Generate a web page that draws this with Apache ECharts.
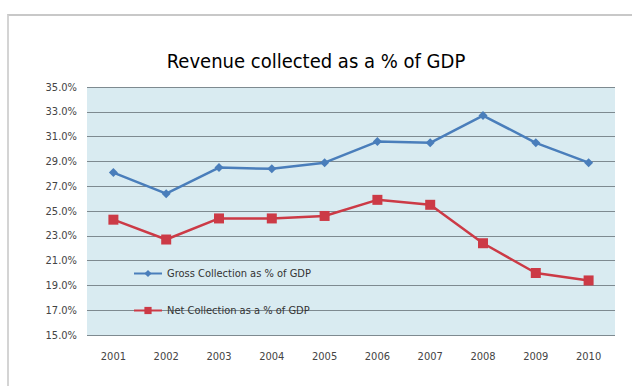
<!DOCTYPE html>
<html>
<head>
<meta charset="utf-8">
<script src="https://cdn.jsdelivr.net/npm/echarts@6/dist/echarts.min.js"></script>
<style>
  html, body { margin: 0; padding: 0; background: #ffffff; }
  #frame { position: absolute; left: 7px; top: 14px; width: 630px; height: 380px; border-top: 2px solid #c8c8c8; border-left: 2px solid #d4d4d4; box-sizing: border-box; }
  #chart { position: absolute; left: 0; top: 0; width: 632px; height: 386px; }
</style>
</head>
<body>
<div id="frame"></div>
<div id="chart"></div>
<script>
// Revenue collected as a share of GDP, 2001-2010
const years = ['2001', '2002', '2003', '2004', '2005', '2006', '2007', '2008', '2009', '2010'];
const grossCollection = [28.1, 26.4, 28.5, 28.4, 28.9, 30.6, 30.5, 32.7, 30.5, 28.9];
const netCollection = [24.3, 22.7, 24.4, 24.4, 24.6, 25.9, 25.5, 22.4, 20.0, 19.4];
const seriesNames = ['Gross Collection as % of GDP', 'Net Collection as a % of GDP'];

const FONT = '"DejaVu Sans Condensed", "Liberation Sans Narrow", sans-serif';

const chart = echarts.init(document.getElementById('chart'), null, { renderer: 'svg' });
chart.setOption({
  animation: false,
  backgroundColor: 'transparent',
  title: {
    text: 'Revenue collected as a % of GDP',
    left: 'center',
    top: 46,
    textStyle: { fontFamily: FONT, fontSize: 20, fontWeight: 'normal', color: '#000' }
  },
  legend: {
    orient: 'vertical',
    left: 128,
    top: 263,
    itemGap: 26,
    itemWidth: 28,
    itemHeight: 9,
    textStyle: { fontFamily: FONT, fontSize: 11, color: '#333' },
    data: seriesNames
  },
  grid: {
    left: 87, right: 17, top: 87, bottom: 51,
    show: true,
    backgroundColor: '#d9ebf1',
    borderWidth: 0
  },
  xAxis: {
    type: 'category',
    data: years,
    boundaryGap: true,
    axisLine: { show: false },
    axisTick: { show: false },
    axisLabel: { fontFamily: FONT, fontSize: 11, color: '#444', margin: 16 }
  },
  yAxis: {
    type: 'value',
    min: 15,
    max: 35,
    interval: 2,
    axisLine: { show: false },
    axisTick: { show: false },
    splitLine: { lineStyle: { color: '#7e8a90', width: 1 } },
    axisLabel: {
      fontFamily: FONT, fontSize: 11, color: '#444', margin: 10,
      formatter: v => v.toFixed(1) + '%'
    }
  },
  series: [
    {
      name: seriesNames[0],
      type: 'line',
      data: grossCollection,
      symbol: 'diamond',
      symbolSize: 9,
      lineStyle: { color: '#4a7ebb', width: 2.5 },
      itemStyle: { color: '#4a7ebb' }
    },
    {
      name: seriesNames[1],
      type: 'line',
      data: netCollection,
      symbol: 'rect',
      symbolSize: 10,
      lineStyle: { color: '#cc3a46', width: 2.5 },
      itemStyle: { color: '#cc3a46' }
    }
  ]
});
</script>
</body>
</html>
